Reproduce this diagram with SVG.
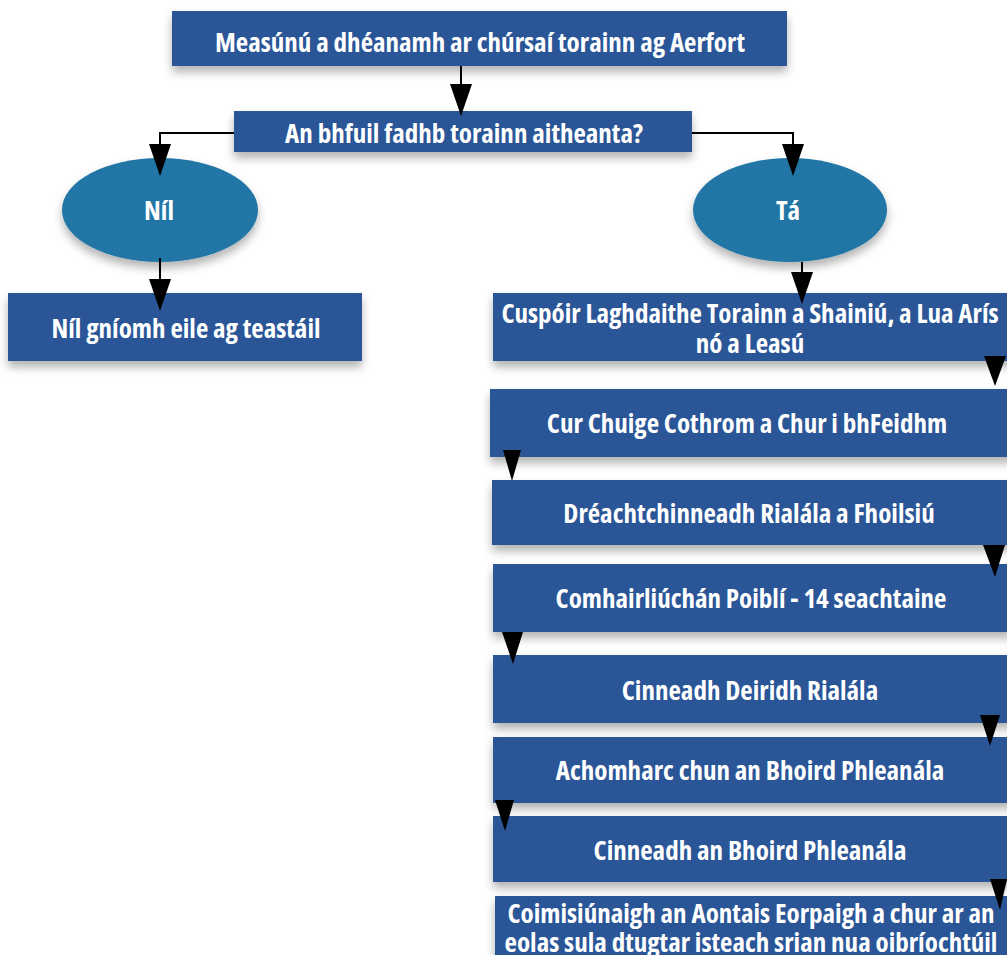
<svg xmlns="http://www.w3.org/2000/svg" width="1007" height="955" viewBox="0 0 1007 955">
<defs>
<filter id="sh" x="-10%" y="-30%" width="120%" height="180%">
<feDropShadow dx="0" dy="6" stdDeviation="5" flood-color="#000" flood-opacity="0.3"/>
</filter>
<marker id="ah" markerUnits="userSpaceOnUse" markerWidth="32" markerHeight="22" refX="30" refY="11" orient="auto" viewBox="0 0 32 22">
<path d="M0,0 L32,11 L0,22 Z" fill="#000"/>
</marker>
<style>
.box{fill:#2B5797;filter:url(#sh)}
.ell{fill:#2076A6;filter:url(#sh)}
.t{font-family:"Open Sans","Liberation Sans",sans-serif;font-weight:700;font-stretch:condensed;font-size:27px;fill:#fff;text-anchor:middle}
.c{fill:none;stroke:#000;stroke-width:2}
.tri{fill:#000}
</style>
</defs>
<rect width="1007" height="955" fill="#fff"/>
<g id="n1"><rect class="box" x="172" y="11" width="615" height="55"/><text class="t" x="480" y="52">Measúnú a dhéanamh ar chúrsaí torainn ag Aerfort</text></g>
<g id="n2"><rect class="box" x="234" y="111" width="458" height="41"/><text class="t" x="464" y="143">An bhfuil fadhb torainn aitheanta?</text></g>
<g id="n3"><ellipse class="ell" cx="160" cy="210" rx="98" ry="52"/><text class="t" x="159" y="220">Níl</text></g>
<g id="n4"><ellipse class="ell" cx="790" cy="210" rx="97" ry="52"/><text class="t" x="788" y="220">Tá</text></g>
<g id="n5"><rect class="box" x="8" y="293" width="354" height="68"/><text class="t" x="186" y="338">Níl gníomh eile ag teastáil</text></g>
<g id="n6"><rect class="box" x="493" y="293" width="520" height="68"/><text class="t" x="750" y="323">Cuspóir Laghdaithe Torainn a Shainiú, a Lua Arís<tspan x="750" dy="30">nó a Leasú</tspan></text></g>
<g id="n7"><rect class="box" x="490" y="389" width="523" height="68"/><text class="t" x="747" y="433">Cur Chuige Cothrom a Chur i bhFeidhm</text></g>
<g id="n8"><rect class="box" x="492" y="480" width="521" height="65"/><text class="t" x="749" y="523">Dréachtchinneadh Rialála a Fhoilsiú</text></g>
<g id="n9"><rect class="box" x="493" y="564" width="520" height="68"/><text class="t" x="751" y="608">Comhairliúchán Poiblí - 14 seachtaine</text></g>
<g id="n10"><rect class="box" x="493" y="655" width="520" height="68"/><text class="t" x="750" y="700">Cinneadh Deiridh Rialála</text></g>
<g id="n11"><rect class="box" x="493" y="737" width="520" height="66"/><text class="t" x="750" y="780">Achomharc chun an Bhoird Phleanála</text></g>
<g id="n12"><rect class="box" x="493" y="816" width="520" height="66"/><text class="t" x="750" y="860">Cinneadh an Bhoird Phleanála</text></g>
<g id="n13"><rect class="box" x="495" y="896" width="520" height="80"/><text class="t" x="751" y="923">Coimisiúnaigh an Aontais Eorpaigh a chur ar an<tspan x="751" dy="29">eolas sula dtugtar isteach srian nua oibríochtúil</tspan></text></g>
<g id="connectors">
<path class="c" d="M461,66 V114" marker-end="url(#ah)"/>
<path class="c" d="M234,133 H160 V174" marker-end="url(#ah)"/>
<path class="c" d="M692,133 H793 V174" marker-end="url(#ah)"/>
<path class="c" d="M160,258 V309" marker-end="url(#ah)"/>
<path class="c" d="M802,262 V302" marker-end="url(#ah)"/>
<path class="tri" d="M984,356 L1006,356 L995,386 Z"/>
<path class="tri" d="M503,450 L521,450 L512,481 Z"/>
<path class="tri" d="M983,545 L1005,545 L995,577 Z"/>
<path class="tri" d="M502,632 L523,632 L513,664 Z"/>
<path class="tri" d="M980,715 L1000,715 L990,746 Z"/>
<path class="tri" d="M495,800 L514,800 L505,831 Z"/>
<path class="tri" d="M990,879 L1007,879 L1000,910 Z"/>
</g>
</svg>
